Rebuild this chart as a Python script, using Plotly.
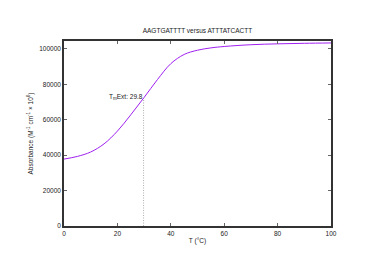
import plotly.graph_objects as go

title_text = "AAGTGATTTT versus ATTTATCACTT"
temps = [0, 5, 10, 15, 20, 25, 30, 35, 40, 45, 50, 55, 60, 70, 80, 90, 100]
absorb = [37800, 39300, 41800, 46400, 53600, 62800, 72600, 82700, 91700,
          96900, 99300, 100600, 101400, 102400, 102900, 103200, 103400]
tm_value = 29.8
tm_absorb = 72000
x_ticks = [0, 20, 40, 60, 80, 100]
y_ticks = [0, 20000, 40000, 60000, 80000, 100000]

FONT = "Liberation Sans, Arial, sans-serif"
TXT = "#222222"
FS = 6.5

fig = go.Figure()
fig.add_trace(go.Scatter(x=temps, y=absorb, mode="lines",
                         line=dict(color="#a020f0", width=1, shape="spline"),
                         hoverinfo="skip", showlegend=False))
fig.add_trace(go.Scatter(x=[tm_value, tm_value], y=[0, tm_absorb], mode="lines",
                         line=dict(color="#999999", width=0.8, dash="1px,1.5px"),
                         hoverinfo="skip", showlegend=False))

fig.add_annotation(x=tm_value, y=tm_absorb, xref="x", yref="y",
                   text="T<sub>m</sub>Ext: 29.8", showarrow=False,
                   xanchor="right", yanchor="middle", xshift=1, yshift=2,
                   font=dict(family=FONT, size=FS, color=TXT))

fig.update_layout(
    width=374, height=264,
    margin=dict(l=64, r=43, t=41, b=38),
    paper_bgcolor="white", plot_bgcolor="white",
    title=dict(text=title_text, x=0.528, xanchor="center", y=0.883, yanchor="middle",
               font=dict(family=FONT, size=FS, color=TXT)),
    font=dict(family=FONT, size=FS, color=TXT),
)
fig.update_xaxes(range=[0, 100], tickvals=x_ticks, ticks="inside", ticklen=3,
                 tickcolor="#666", showline=True, linecolor="#333", linewidth=1.5,
                 mirror="allticks", showgrid=False, zeroline=False,
                 tickfont=dict(family=FONT, size=FS, color=TXT),
                 title=dict(text="T (°C)", standoff=3,
                            font=dict(family=FONT, size=FS, color=TXT)))
fig.update_yaxes(range=[0, 104500], tickvals=y_ticks, tickformat="d", ticks="inside",
                 ticklen=3, tickcolor="#666", showline=True, linecolor="#333",
                 linewidth=1.5, mirror="allticks", showgrid=False, zeroline=False,
                 tickfont=dict(family=FONT, size=FS, color=TXT),
                 title=dict(text="Absorbance (M<sup>-1</sup> cm<sup>-1</sup> × 10<sup>6</sup>)",
                            standoff=5, font=dict(family=FONT, size=FS, color=TXT)))

fig.write_html("out.html")
